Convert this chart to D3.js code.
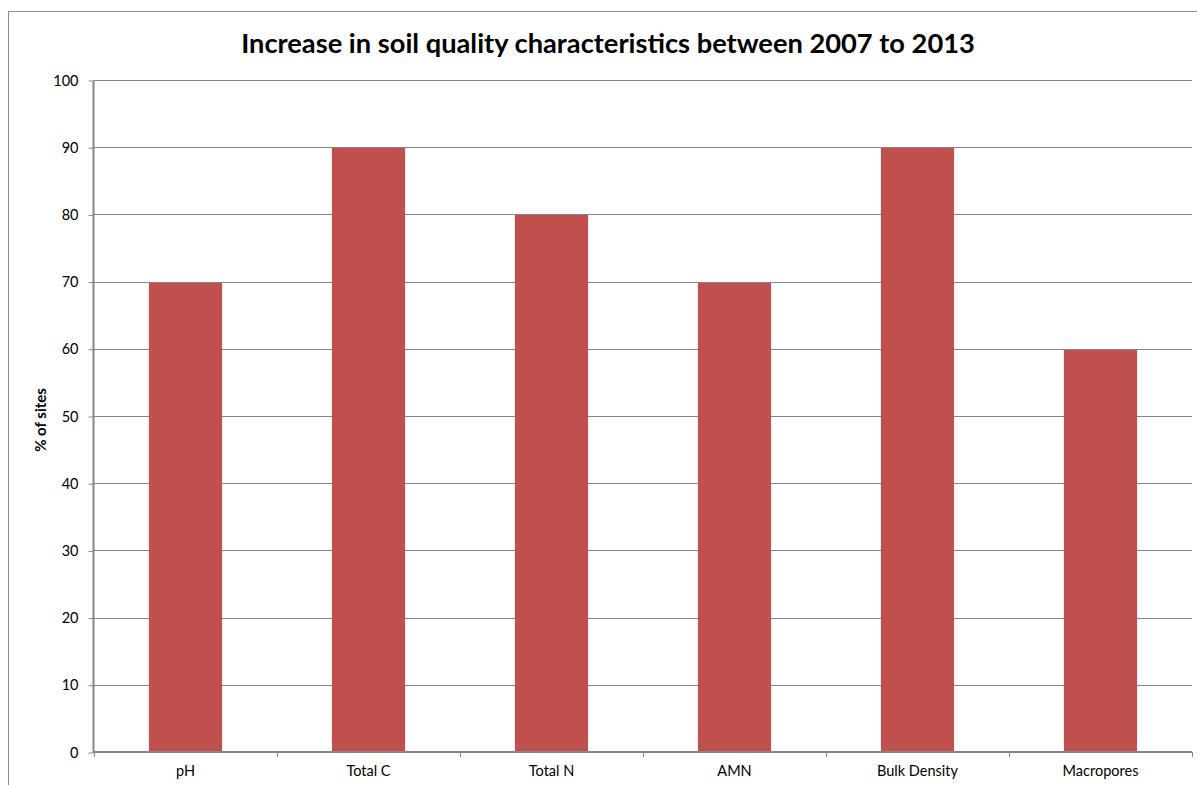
<!DOCTYPE html>
<html>
<head>
<meta charset="utf-8">
<script src="https://cdn.jsdelivr.net/npm/d3@7"></script>
<style>
  html, body { margin: 0; padding: 0; background: #fff; }
  svg { display: block; }
</style>
</head>
<body>
<svg id="chart" width="1197" height="785"></svg>
<script>
// Soil quality characteristics and share of sites showing an increase
const categories = ["pH", "Total C", "Total N", "AMN", "Bulk Density", "Macropores"];
const percentSites = [70, 90, 80, 70, 90, 60];
const yTicks = [0, 10, 20, 30, 40, 50, 60, 70, 80, 90, 100];
const chartTitle = "Increase in soil quality characteristics between 2007 to 2013";
const yAxisTitle = "% of sites";

const svg = d3.select("#chart");
const W = 1197, H = 785;
const font = "Lato, 'Open Sans', 'Liberation Sans', sans-serif";
const axisColor = "#868686";

// Outer chart frame
svg.append("rect")
  .attr("x", 8.5).attr("y", 11.5)
  .attr("width", W + 10).attr("height", H + 10)
  .attr("fill", "#fff").attr("stroke", "#8c8c8c").attr("stroke-width", 1);

const plot = { left: 94, right: 1192, top: 80, bottom: 752 };

const x = d3.scaleBand()
  .domain(categories)
  .range([plot.left, plot.right])
  .paddingInner(0.6).paddingOuter(0.3);

const xOuter = d3.scaleBand()
  .domain(categories)
  .range([plot.left, plot.right]);

const y = d3.scaleLinear().domain([0, 100]).range([plot.bottom, plot.top]);

// Horizontal gridlines
svg.append("g")
  .selectAll("line")
  .data(yTicks.filter(t => t > 0))
  .join("line")
  .attr("x1", plot.left).attr("x2", plot.right)
  .attr("y1", d => Math.round(y(d)) + 0.5).attr("y2", d => Math.round(y(d)) + 0.5)
  .attr("stroke", axisColor).attr("stroke-width", 1);

// Bars
svg.append("g")
  .selectAll("rect")
  .data(categories.map((c, i) => ({ c, v: percentSites[i] })))
  .join("rect")
  .attr("x", d => x(d.c))
  .attr("width", x.bandwidth())
  .attr("y", d => Math.round(y(d.v)) + 1)
  .attr("height", d => plot.bottom - Math.round(y(d.v)) - 1)
  .attr("fill", "#c0504d");

// Y axis
const yAxis = svg.append("g")
  .attr("transform", `translate(${plot.left - 0.5},0.5)`)
  .call(d3.axisLeft(y).tickValues(yTicks).tickSize(5).tickPadding(10).tickFormat(d3.format("d")));
yAxis.select(".domain").attr("stroke", axisColor).attr("stroke-width", 2).attr("d", `M0,${plot.top}V${plot.bottom}`);
yAxis.selectAll(".tick line").attr("stroke", axisColor);
yAxis.selectAll(".tick text")
  .attr("font-family", font).attr("font-size", 14.5).attr("fill", "#000");

// X axis with ticks at category boundaries
const xAxisG = svg.append("g").attr("transform", `translate(0,${plot.bottom})`);
xAxisG.append("line")
  .attr("x1", plot.left - 1).attr("x2", plot.right)
  .attr("y1", 0).attr("y2", 0)
  .attr("stroke", axisColor).attr("stroke-width", 2);
const boundaries = categories.map(c => xOuter(c)).concat([plot.right]);
xAxisG.selectAll("line.tick")
  .data(boundaries)
  .join("line")
  .attr("class", "tick")
  .attr("x1", d => Math.round(d) + 0.5).attr("x2", d => Math.round(d) + 0.5)
  .attr("y1", 0).attr("y2", 5)
  .attr("stroke", axisColor);
xAxisG.selectAll("text")
  .data(categories)
  .join("text")
  .attr("x", d => xOuter(d) + xOuter.bandwidth() / 2)
  .attr("y", 24)
  .attr("text-anchor", "middle")
  .attr("font-family", font).attr("font-size", 14.5).attr("fill", "#000")
  .text(d => d);

// Y axis title
svg.append("text")
  .attr("transform", `translate(46,${(plot.top + plot.bottom) / 2 + 4}) rotate(-90)`)
  .attr("text-anchor", "middle")
  .attr("font-family", font).attr("font-size", 15).attr("font-weight", "bold")
  .attr("fill", "#000")
  .text(yAxisTitle);

// Chart title, sized to its span
const title = svg.append("text")
  .attr("x", 608).attr("y", 53)
  .attr("text-anchor", "middle")
  .attr("font-family", font).attr("font-size", 24).attr("font-weight", "bold")
  .attr("fill", "#000")
  .text(chartTitle);
const tw = title.node().getComputedTextLength();
title.attr("font-size", 24 * 734 / tw);
</script>
</body>
</html>
